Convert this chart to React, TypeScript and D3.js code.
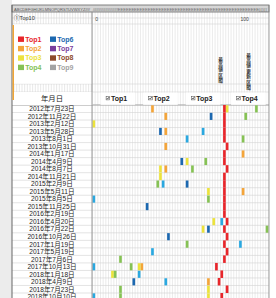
import * as d3 from "d3";
import { useEffect, useRef } from "react";

// row labels (one per sheet row)
const dates = [
  "2012年7月23日", "2012年11月22日", "2013年2月12日", "2013年5月28日",
  "2013年8月1日", "2013年10月31日", "2014年1月17日", "2014年4月9日",
  "2014年8月7日", "2014年11月21日", "2015年2月9日", "2015年5月11日",
  "2015年8月5日", "2015年11月25日", "2016年2月19日", "2016年4月20日",
  "2016年7月22日", "2016年10月26日", "2017年1月19日", "2017年5月19日",
  "2017年7月6日", "2017年10月13日", "2018年1月18日", "2018年4月9日",
  "2018年7月23日", "2018年10月10日",
];

// column index of each TopN per row (null = none)
const _ = null;
const top1 = [49, 49, 49, 49, 49, 50, 49, 49, 50, 49, 49, 49, 49, 49, 49, 50, 49, 50, 49, 50, 49, 46, 48, 47, 50, 48];
const top2 = [22, 27, _, 27, _, 27, 56, _, 27, _, _, 56, _, _, _, _, _, _, _, _, _, 18, _, 43, _, _];
const top3 = [50, _, 0, _, _, _, _, 35, 25, 25, _, 43, _, _, _, 45, 41, _, _, _, _, 17, 7, _, 43, 43];
const top4 = [61, 57, _, _, 56, _, _, 42, 37, _, 24, _, 43, _, _, _, 65, _, 35, _, 10, 14, 8, _, 10, 10];
const top5 = [_, _, _, 41, 35, _, _, _, _, _, 26, _, 0, _, _, 48, _, _, 55, 22, _, 0, 17, 27, _, 0];
const top6 = [_, 44, _, 25, _, _, _, 33, _, _, 35, _, _, 20, _, _, 43, 28, _, _, _, _, _, 15, _, _];

const seriesNames = ["Top1", "Top2", "Top3", "Top4", "Top5", "Top6", "Top7", "Top8", "Top9"];
const seriesColors = ["#e8262b", "#f4a53a", "#ece33c", "#86c255", "#2aa8e0", "#1c68b0", "#7a3d9c", "#8d4a2a", "#a3a3a3"];
const legendLeft = ["Top1", "Top2", "Top3", "Top4"];
const legendRight = ["Top6", "Top7", "Top8", "Top9"];
const headerLabels = ["Top1", "Top2", "Top3", "Top4"];
const scaleLabels = ["0", "100"];
const noteLabels = ["最高値区間", "最高値更新区間"];

export default function App() {
  const ref = useRef<SVGSVGElement>(null);

  useEffect(() => {
    if (!ref.current) return;
    const svg = d3.select(ref.current);
    svg.selectAll("*").remove();

    const width = 276, height = 298;
    const panelL = 12, panelR = 269, panelT = 5;
    const gridL = 92.5, colW = 2.665, nCols = 66;
    const rowTop = 105, rowH = 7.52;
    const jp = "'Liberation Sans', 'Noto Sans CJK JP', sans-serif";
    const sans = "'Liberation Sans', Arial, sans-serif";

    const x = d3.scaleLinear().domain([0, nCols]).range([gridL, gridL + nCols * colW]);
    const y = d3.scaleBand().domain(dates).range([rowTop, rowTop + dates.length * rowH]);
    const color = d3.scaleOrdinal<string, string>().domain(seriesNames).range(seriesColors);

    // backdrop
    svg.append("rect").attr("width", width).attr("height", height).attr("fill", "#fff");
    svg.append("rect").attr("width", panelL).attr("height", height).attr("fill", "#ececec");
    svg.append("rect").attr("x", panelL).attr("y", panelT)
      .attr("width", panelR - panelL).attr("height", height).attr("fill", "#fff");

    // column grid
    const cols = d3.range(nCols + 1);
    svg.append("g").selectAll("line").data(cols).enter().append("line")
      .attr("x1", d => x(d)).attr("x2", d => x(d))
      .attr("y1", 12).attr("y2", height)
      .attr("stroke", "#dedede").attr("stroke-width", 0.6);

    // fine grid strip at left, rows 12-24 and 84-92
    const leftCols = d3.range(14, 92, colW);
    [[12, 24], [84, 92]].forEach(([a, b]) => {
      svg.append("g").selectAll("line").data(leftCols).enter().append("line")
        .attr("x1", d => d).attr("x2", d => d).attr("y1", a).attr("y2", b)
        .attr("stroke", "#d8d8d8").attr("stroke-width", 0.6);
    });

    // row lines
    const bounds = d3.range(dates.length + 1).map(i => rowTop + i * rowH);
    svg.append("g").selectAll("line").data(bounds).enter().append("line")
      .attr("x1", panelL).attr("x2", panelR).attr("y1", d => d).attr("y2", d => d)
      .attr("stroke", "#d2d2d2").attr("stroke-width", 0.6);
    [18, 24, 84, 92].forEach(v => {
      svg.append("line").attr("x1", panelL).attr("x2", panelR).attr("y1", v).attr("y2", v)
        .attr("stroke", "#d4d4d4").attr("stroke-width", 0.6);
    });
    svg.append("line").attr("x1", panelL).attr("x2", panelR).attr("y1", rowTop).attr("y2", rowTop)
      .attr("stroke", "#999").attr("stroke-width", 0.8);

    // top strip with column letters
    svg.append("rect").attr("x", panelL).attr("y", panelT).attr("width", panelR - panelL).attr("height", 7)
      .attr("fill", "#d6d6d6").attr("stroke", "#666").attr("stroke-width", 0.8);
    svg.append("text").attr("x", 14).attr("y", 10.6)
      .attr("font-family", sans).attr("font-size", 4.2).attr("fill", "#555")
      .attr("textLength", 76).attr("lengthAdjust", "spacingAndGlyphs")
      .text("ABCDEFGHIJKLMNOPQRSTUVWXYZ////");
    svg.append("text").attr("x", 93).attr("y", 10.6)
      .attr("font-family", sans).attr("font-size", 4.2).attr("fill", "#666")
      .attr("textLength", 174).attr("lengthAdjust", "spacingAndGlyphs")
      .text("//////////////////////EEEEEEEEEEEEEEEEEEEEEEEEEEEEEEEEEEEEEEEEEEEEEEEEEEEE((((((");

    svg.append("text").attr("x", 14).attr("y", 19.5)
      .attr("font-family", jp).attr("font-size", 5.6).attr("fill", "#333").text("①Top10");
    svg.append("g").selectAll("text").data(scaleLabels).enter().append("text")
      .attr("x", d => (d === "0" ? x(1) : x(55.5)))
      .attr("y", 21).attr("font-family", sans).attr("font-size", 5).attr("fill", "#444")
      .text(d => d);

    // legend box
    svg.append("rect").attr("x", 14).attr("y", 24.5).attr("width", 78).attr("height", 59)
      .attr("fill", "#fff");
    const legend = svg.append("g");
    [legendLeft, legendRight].forEach((items, c) => {
      const lg = legend.append("g").attr("transform", `translate(${18 + c * 32},0)`);
      const it = lg.selectAll("g").data(items).enter().append("g")
        .attr("transform", (d, i) => `translate(0,${41.5 + i * 9.4})`);
      it.append("rect").attr("y", -5).attr("width", 6).attr("height", 5.4).attr("fill", d => color(d));
      it.append("text").attr("x", 7.2).attr("y", 0)
        .attr("font-family", sans).attr("font-weight", "bold").attr("font-size", 7)
        .attr("fill", d => color(d)).text(d => d);
    });

    // vertical notes
    const noteX = [220.5, 248.5], noteY = [56, 52];
    noteLabels.forEach((s, k) => {
      svg.append("g").selectAll("text").data(Array.from(s)).enter().append("text")
        .attr("x", noteX[k]).attr("y", (d, i) => noteY[k] + 4.6 + i * 5.4)
        .attr("text-anchor", "middle").attr("font-family", jp).attr("font-size", 4.7)
        .attr("font-weight", "bold").attr("fill", "#333").text(d => d);
    });

    // header row
    svg.append("rect").attr("x", panelL).attr("y", 92).attr("width", gridL - panelL).attr("height", rowTop - 92)
      .attr("fill", "#fff");
    svg.append("text").attr("x", 52).attr("y", 101.3).attr("text-anchor", "middle")
      .attr("font-family", jp).attr("font-size", 7.4).attr("fill", "#222").text("年月日");
    const headStart = [3, 19, 35, 52];
    const head = svg.append("g").selectAll("g").data(headerLabels).enter().append("g")
      .attr("transform", (d, i) => `translate(${x(headStart[i])},92)`);
    head.append("rect").attr("x", 0).attr("y", 0.6).attr("width", 13 * colW).attr("height", 12.2)
      .attr("fill", "#fff");
    head.append("rect").attr("x", 5.6).attr("y", 4.3).attr("width", 3.6).attr("height", 3.6)
      .attr("fill", "#fff").attr("stroke", "#444").attr("stroke-width", 0.5);
    head.append("path").attr("d", "M6.3,6.1 L7.2,7.1 L8.6,5").attr("fill", "none")
      .attr("stroke", "#222").attr("stroke-width", 0.7);
    head.append("text").attr("x", 10.4).attr("y", 8.6)
      .attr("font-family", sans).attr("font-weight", "bold").attr("font-size", 7).attr("fill", "#222")
      .text(d => d);

    // date column
    svg.append("g").selectAll("text").data(dates).enter().append("text")
      .attr("x", 52).attr("y", d => (y(d) as number) + rowH / 2 + 2.4)
      .attr("text-anchor", "middle").attr("font-family", jp).attr("font-size", 6.6)
      .attr("fill", "#1a1a1a").text(d => d);

    // marks
    const series = [top2, top3, top4, top5, top6];
    series.forEach((vals, s) => {
      const pts = vals.map((v, i) => ({ v, d: dates[i] })).filter(p => p.v !== null);
      svg.append("g").selectAll("rect").data(pts).enter().append("rect")
        .attr("x", p => x(p.v as number)).attr("y", p => (y(p.d) as number) + 0.3)
        .attr("width", colW).attr("height", rowH - 0.4)
        .attr("fill", seriesColors[s + 1]);
    });
    svg.append("g").selectAll("rect").data(top1.map((v, i) => ({ v, d: dates[i] }))).enter().append("rect")
      .attr("x", p => x(p.v)).attr("y", p => y(p.d) as number)
      .attr("width", colW).attr("height", rowH)
      .attr("fill", seriesColors[0]);

    // frame
    svg.append("line").attr("x1", gridL - 0.5).attr("x2", gridL - 0.5).attr("y1", 12).attr("y2", height)
      .attr("stroke", "#8c8c8c").attr("stroke-width", 0.9);
    svg.append("line").attr("x1", panelL).attr("x2", panelL).attr("y1", panelT).attr("y2", height)
      .attr("stroke", "#666").attr("stroke-width", 1);
    svg.append("line").attr("x1", panelR).attr("x2", panelR).attr("y1", panelT).attr("y2", height)
      .attr("stroke", "#888").attr("stroke-width", 0.8);
    svg.append("rect").attr("x", panelL + 0.5).attr("y", 25).attr("width", 1.5).attr("height", 75)
      .attr("fill", "#f0a536");
  }, []);

  return (
    <svg ref={ref} width={276} height={298}
      style={{ position: "absolute", left: 0, top: 0, display: "block" }} />
  );
}
